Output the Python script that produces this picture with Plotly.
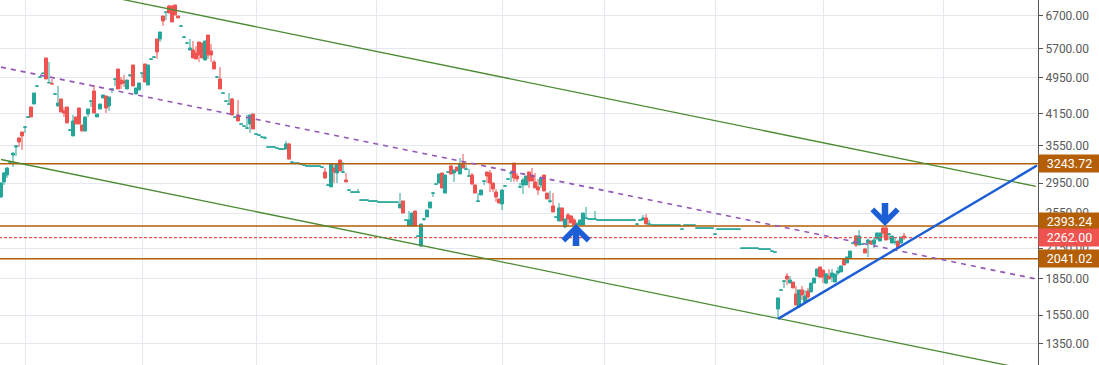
import math
import plotly.graph_objects as go

# ---------------- data ----------------
candle_index = list(range(302))

opens = [
    2760, 2969, 3072, 3270, 3387, 3523, 3680, 3790, 3880, 4070,
    4282, 4345, 4740, 4955, 5045, 5440, 4815, 4800, 4560, 4303,
    4453, 4199, 4282, 3820, 3717, 4078, 4261, 3922, 3808, 4138,
    4405, 4630, 4078, 4240, 4475, 4519, 4303, 4670, 4905, 5155,
    4886, 4862, 4676, 4990, 5257, 4563, 4653, 5050, 5283, 4768,
    5405, 5460, 5969, 5969, 6679, 6800, 7014, 7014, 7048, 6679,
    6355, 6020, 5850, 5657, 5657, 5574, 5882, 5854, 5387, 6087,
    5629, 5335, 4955, 4910, 4580, 4405, 4340, 4453, 4075, 4118,
    3938, 3900, 3860, 3942, 4138, 3750, 3732, 3695, 3678, 3520,
    3520, 3520, 3502, 3485, 3485, 3488, 3575, 3270, 3254, 3254,
    3238, 3222, 3207, 3207, 3207, 3207, 3207, 3191, 3117, 2923,
    2898, 3178, 3102, 3305, 3112, 2998, 2852, 2824, 2824, 2824,
    2716, 2716, 2716, 2703, 2703, 2703, 2689, 2689, 2689, 2689,
    2689, 2689, 2689, 2615, 2706, 2463, 2395, 2395, 2576, 2277,
    2171, 2475, 2502, 2615, 2810, 2937, 2954, 3102, 2813, 3114,
    3210, 3102, 3194, 3087, 3257, 3160, 3055, 3072, 2926, 2700,
    2786, 2980, 3117, 3102, 2954, 2827, 2732, 2666, 2909, 3010,
    3100, 3257, 3057, 2895, 2926, 2926, 3117, 3072, 2969, 2898,
    2926, 3072, 2813, 2700, 2641, 2500, 2454, 2615, 2383, 2527,
    2515, 2466, 2415, 2406, 2406, 2486, 2475, 2475, 2475, 2463,
    2463, 2463, 2463, 2463, 2463, 2463, 2463, 2463, 2463, 2463,
    2463, 2463, 2415, 2463, 2466, 2490, 2415, 2403, 2403, 2403,
    2403, 2403, 2403, 2403, 2403, 2403, 2403, 2356, 2403, 2403,
    2403, 2403, 2368, 2368, 2368, 2368, 2368, 2368, 2300, 2356,
    2356, 2356, 2356, 2356, 2356, 2356, 2356, 2147, 2147, 2147,
    2147, 2147, 2147, 2137, 2137, 2137, 2137, 2116, 2106, 1596,
    1749, 1828, 1875, 1812, 1821, 1718, 1612, 1752, 1652, 1743,
    1735, 1812, 1875, 1960, 1931, 1812, 1875, 1866, 1821, 1903,
    1913, 2038, 1999, 2048, 2200, 2280, 2182, 2188, 2140, 2203,
    2225, 2192, 2247, 2225, 2371, 2371, 2300, 2203, 2210, 2225,
    2203, 2280,
]

highs = [
    2960, 3117, 3194, 3290, 3420, 3540, 3698, 3790, 3884, 4085,
    4282, 4585, 4750, 4965, 5060, 5440, 5335, 4910, 4565, 4745,
    4453, 4282, 4282, 3830, 4118, 4078, 4261, 3922, 4078, 4240,
    4409, 4768, 4138, 4345, 4541, 4519, 4497, 4676, 4910, 5155,
    4959, 5007, 4886, 5007, 5257, 4699, 4815, 5056, 5283, 5257,
    5414, 5468, 5969, 6176, 6679, 6811, 7048, 7014, 7048, 6679,
    6361, 6027, 5854, 5969, 5911, 5769, 5882, 5854, 5911, 6087,
    5826, 5387, 4959, 5206, 4585, 4409, 4585, 4475, 4078, 4431,
    3942, 3903, 4118, 4118, 4138, 3753, 3735, 3698, 3717, 3523,
    3523, 3523, 3505, 3488, 3488, 3627, 3593, 3273, 3257, 3257,
    3241, 3225, 3210, 3210, 3210, 3210, 3210, 3194, 3178, 2926,
    3241, 3241, 3241, 3305, 3273, 3102, 2855, 2827, 2827, 2869,
    2719, 2719, 2719, 2706, 2706, 2706, 2692, 2692, 2692, 2692,
    2692, 2692, 2692, 2813, 2706, 2466, 2576, 2551, 2576, 2280,
    2418, 2490, 2589, 2692, 2827, 2940, 3087, 3102, 3072, 3117,
    3225, 3148, 3194, 3338, 3404, 3225, 3163, 3102, 2926, 2813,
    2855, 2983, 3117, 3148, 2954, 2869, 2732, 2855, 2912, 3013,
    3117, 3257, 3102, 2954, 3028, 3057, 3117, 3178, 3102, 3013,
    3028, 3072, 2813, 2841, 2813, 2502, 2679, 2615, 2478, 2551,
    2515, 2490, 2442, 2466, 2551, 2628, 2478, 2478, 2576, 2466,
    2466, 2466, 2466, 2466, 2466, 2466, 2466, 2466, 2466, 2466,
    2466, 2466, 2418, 2466, 2527, 2539, 2466, 2406, 2406, 2406,
    2406, 2406, 2406, 2406, 2406, 2406, 2406, 2359, 2406, 2406,
    2406, 2406, 2371, 2371, 2371, 2371, 2371, 2371, 2303, 2359,
    2359, 2359, 2359, 2359, 2359, 2359, 2359, 2150, 2150, 2150,
    2150, 2150, 2150, 2140, 2140, 2140, 2140, 2119, 2109, 1685,
    1752, 1839, 1903, 1875, 1821, 1786, 1752, 1786, 1752, 1769,
    1812, 1857, 1941, 1960, 1931, 1903, 1941, 1941, 1894, 1960,
    1970, 2048, 2058, 2119, 2215, 2291, 2348, 2192, 2150, 2250,
    2225, 2269, 2314, 2314, 2383, 2383, 2314, 2280, 2269, 2225,
    2269, 2314,
]

lows = [
    2745, 2926, 3028, 3250, 3194, 3371, 3523, 3471, 3771, 4060,
    4078, 4345, 4735, 4950, 5040, 4910, 4815, 4790, 4555, 4300,
    4179, 4078, 3961, 3815, 3717, 3942, 3942, 3808, 3808, 4078,
    4282, 4158, 4078, 4240, 4475, 4158, 4199, 4585, 4745, 4676,
    4676, 4722, 4676, 4959, 4745, 4563, 4653, 4935, 4839, 4768,
    5400, 5455, 5414, 5882, 6361, 6550, 6778, 6486, 6712, 6614,
    6350, 6015, 5845, 5657, 5440, 5414, 5335, 5440, 5387, 5414,
    5335, 5155, 4950, 4676, 4575, 4400, 4340, 4118, 4070, 3999,
    3935, 3898, 3860, 3771, 3846, 3745, 3730, 3690, 3675, 3518,
    3518, 3518, 3500, 3483, 3483, 3488, 3305, 3268, 3252, 3252,
    3236, 3220, 3205, 3205, 3205, 3205, 3205, 3189, 3013, 2921,
    2898, 2954, 2954, 3132, 3112, 2969, 2850, 2822, 2822, 2822,
    2714, 2714, 2714, 2701, 2701, 2701, 2687, 2687, 2687, 2687,
    2687, 2687, 2687, 2615, 2551, 2461, 2395, 2395, 2395, 2275,
    2161, 2454, 2502, 2615, 2759, 2935, 2954, 2883, 2813, 3112,
    3087, 2969, 3132, 3087, 3178, 3160, 3055, 2926, 2813, 2692,
    2786, 2926, 2954, 2827, 2827, 2692, 2679, 2589, 2907, 3008,
    2969, 2969, 2969, 2883, 2799, 2926, 2883, 2983, 2883, 2786,
    2883, 2841, 2732, 2679, 2564, 2495, 2454, 2454, 2371, 2383,
    2430, 2406, 2395, 2406, 2406, 2486, 2473, 2473, 2473, 2461,
    2461, 2461, 2461, 2461, 2461, 2461, 2461, 2461, 2461, 2461,
    2461, 2461, 2413, 2461, 2466, 2418, 2415, 2401, 2401, 2401,
    2401, 2401, 2401, 2401, 2401, 2401, 2401, 2354, 2401, 2401,
    2401, 2401, 2366, 2366, 2366, 2366, 2366, 2366, 2298, 2354,
    2354, 2354, 2354, 2354, 2354, 2354, 2354, 2145, 2145, 2145,
    2145, 2145, 2145, 2135, 2135, 2135, 2135, 2114, 2104, 1521,
    1747, 1769, 1795, 1812, 1769, 1628, 1604, 1668, 1652, 1660,
    1735, 1812, 1875, 1857, 1812, 1803, 1848, 1821, 1821, 1885,
    1913, 1979, 1999, 2048, 2190, 2161, 2182, 2185, 2099, 2058,
    2182, 2150, 2247, 2225, 2258, 2236, 2236, 2203, 2182, 2150,
    2203, 2236,
]

closes = [
    2955, 3102, 3178, 3275, 3420, 3540, 3610, 3717, 3884, 4078,
    4078, 4585, 4745, 4959, 5050, 4910, 4825, 4792, 4565, 4366,
    4179, 4158, 3961, 3827, 3999, 3942, 3942, 3808, 4078, 4240,
    4409, 4158, 4138, 4345, 4541, 4261, 4497, 4676, 4910, 4676,
    4792, 4815, 4886, 5007, 4745, 4699, 4815, 5056, 4839, 5257,
    5414, 5468, 5602, 6176, 6518, 6811, 6778, 6486, 6712, 6614,
    6361, 6027, 5854, 5712, 5440, 5414, 5521, 5440, 5911, 5521,
    5521, 5155, 4959, 4676, 4585, 4409, 4345, 4118, 4078, 3999,
    3942, 3903, 3865, 4118, 3846, 3753, 3735, 3698, 3680, 3523,
    3523, 3523, 3505, 3488, 3488, 3575, 3322, 3273, 3257, 3257,
    3241, 3225, 3210, 3210, 3210, 3210, 3210, 3194, 3028, 2926,
    3241, 3117, 3241, 3132, 3117, 2969, 2855, 2827, 2827, 2827,
    2719, 2719, 2719, 2706, 2706, 2706, 2692, 2692, 2692, 2692,
    2692, 2692, 2692, 2666, 2551, 2466, 2466, 2551, 2395, 2280,
    2418, 2478, 2589, 2692, 2813, 2940, 3087, 2883, 3072, 3117,
    3087, 3148, 3132, 3241, 3178, 3163, 3057, 2940, 2813, 2706,
    2855, 2983, 3057, 2954, 2869, 2759, 2679, 2855, 2912, 3013,
    3102, 3028, 3013, 2898, 2998, 3057, 2983, 2983, 2883, 2855,
    3028, 2841, 2732, 2706, 2564, 2502, 2615, 2454, 2478, 2478,
    2430, 2406, 2418, 2466, 2551, 2490, 2478, 2478, 2478, 2466,
    2466, 2466, 2466, 2466, 2466, 2466, 2466, 2466, 2466, 2466,
    2466, 2466, 2418, 2466, 2490, 2418, 2418, 2406, 2406, 2406,
    2406, 2406, 2406, 2406, 2406, 2406, 2406, 2359, 2406, 2406,
    2406, 2406, 2371, 2371, 2371, 2371, 2371, 2371, 2303, 2359,
    2359, 2359, 2359, 2359, 2359, 2359, 2359, 2150, 2150, 2150,
    2150, 2150, 2150, 2140, 2140, 2140, 2140, 2119, 2109, 1685,
    1752, 1830, 1848, 1839, 1769, 1628, 1752, 1710, 1701, 1693,
    1812, 1857, 1941, 1866, 1866, 1894, 1848, 1903, 1894, 1922,
    1970, 1979, 2058, 2119, 2203, 2182, 2280, 2192, 2099, 2236,
    2192, 2236, 2314, 2314, 2314, 2236, 2303, 2280, 2214, 2150,
    2269, 2262,
]

assert len(opens) == len(highs) == len(lows) == len(closes) == len(candle_index)

# price axis ticks
y_ticks = [1350, 1550, 1850, 2150, 2550, 2950, 3550, 4150, 4950, 5700, 6700]

# horizontal levels
levels = [3243.72, 2393.24, 2041.02]
last_price = 2262.00

# channel (two green parallels + purple dashed midline): [start, end] points
channel_x = [0, 345]
channel_upper = [8176, 2906]
channel_mid = [5203, 1849]
channel_lower = [3313, 1178]

# blue rising trend line
trend_x = [259, 345.33]
trend_y = [1521, 3216]

# arrow markers (index, price)
arrow_up = (191.67, 2418)
arrow_down = (294.67, 2395)

# ---------------- styling ----------------
UP = "#26a69a"
DOWN = "#ef5350"
ORANGE = "#b45f06"
GREEN = "#4a8a30"
PURPLE = "#9457b8"
BLUE = "#1c5ed6"
GRID = "#e3e9ef"
FONT = "Roboto"

fig = go.Figure()

fig.add_trace(go.Candlestick(
    x=candle_index, open=opens, high=highs, low=lows, close=closes,
    increasing=dict(line=dict(color=UP, width=1), fillcolor=UP),
    decreasing=dict(line=dict(color=DOWN, width=1), fillcolor=DOWN),
    showlegend=False, hoverinfo="skip",
))

XR = [-0.333, 345.667]
full_x = [XR[0] - 2, XR[1] + 2]

for lv in levels:
    fig.add_trace(go.Scatter(x=full_x, y=[lv, lv], mode="lines",
                             line=dict(color=ORANGE, width=1.5),
                             showlegend=False, hoverinfo="skip"))

fig.add_trace(go.Scatter(x=full_x, y=[last_price, last_price], mode="lines",
                         line=dict(color=DOWN, width=1.2, dash="3px,2px"),
                         showlegend=False, hoverinfo="skip"))

fig.add_trace(go.Scatter(x=channel_x, y=channel_upper, mode="lines",
                         line=dict(color=GREEN, width=1.3),
                         showlegend=False, hoverinfo="skip"))
fig.add_trace(go.Scatter(x=channel_x, y=channel_lower, mode="lines",
                         line=dict(color=GREEN, width=1.3),
                         showlegend=False, hoverinfo="skip"))
fig.add_trace(go.Scatter(x=channel_x, y=channel_mid, mode="lines",
                         line=dict(color=PURPLE, width=1.6, dash="5px,5px"),
                         showlegend=False, hoverinfo="skip"))
fig.add_trace(go.Scatter(x=trend_x, y=trend_y, mode="lines",
                         line=dict(color=BLUE, width=2.4),
                         showlegend=False, hoverinfo="skip"))

annotations = []
# right-side price badges
badge_specs = [
    (levels[0], ORANGE, 0),
    (levels[1], ORANGE, 4.5),
    (last_price, DOWN, 0),
    (levels[2], ORANGE, 0),
]
for val, col, shift in badge_specs:
    annotations.append(dict(
        xref="paper", x=1, xanchor="left", yref="y", y=math.log10(val),
        yanchor="middle", yshift=shift, text=f"{val:.2f}", showarrow=False,
        bgcolor=col, font=dict(color="white", size=12.5, family=FONT),
        width=57, height=13, borderpad=2, align="center",
    ))

# blue arrows
for (ax_x, ax_y), ay in ((arrow_up, 24), (arrow_down, -25)):
    annotations.append(dict(
        x=ax_x, y=math.log10(ax_y), xref="x", yref="y", text=" ",
        showarrow=True, ax=0, ay=ay, arrowhead=4, arrowsize=0.75,
        arrowwidth=6.5, arrowcolor=BLUE, standoff=0, startstandoff=0,
        font=dict(size=1),
    ))

fig.update_layout(
    width=1099, height=365,
    margin=dict(l=0, r=61, t=0, b=0, autoexpand=False),
    paper_bgcolor="white", plot_bgcolor="white",
    showlegend=False,
    annotations=annotations,
    hovermode=False,
    boxgap=0, boxgroupgap=0,
    xaxis=dict(
        range=XR, rangeslider=dict(visible=False), automargin=False,
        tickvals=[8, 47.33, 85.33, 125.33, 167.33, 201, 238, 274, 314.33],
        showticklabels=False, ticks="", showgrid=True, gridcolor=GRID,
        gridwidth=1, zeroline=False, showline=False,
    ),
    yaxis=dict(
        type="log", side="right", range=[3.0843, 3.8586], automargin=False,
        tickvals=y_ticks, ticktext=[f"{v:.2f}" for v in y_ticks],
        showgrid=True, gridcolor=GRID, gridwidth=1, zeroline=False,
        showline=True, linecolor="#555555", linewidth=1,
        ticks="outside", ticklen=4, tickcolor="#555555",
        tickfont=dict(family=FONT, size=12, color="#5a5a5a"),
    ),
)

# remove the browser's default page margin so the figure sits at (0, 0)
fig.write_html(
    "out.html",
    config={"displayModeBar": False},
    post_script="document.body.style.margin='0';document.body.style.padding='0';",
)
